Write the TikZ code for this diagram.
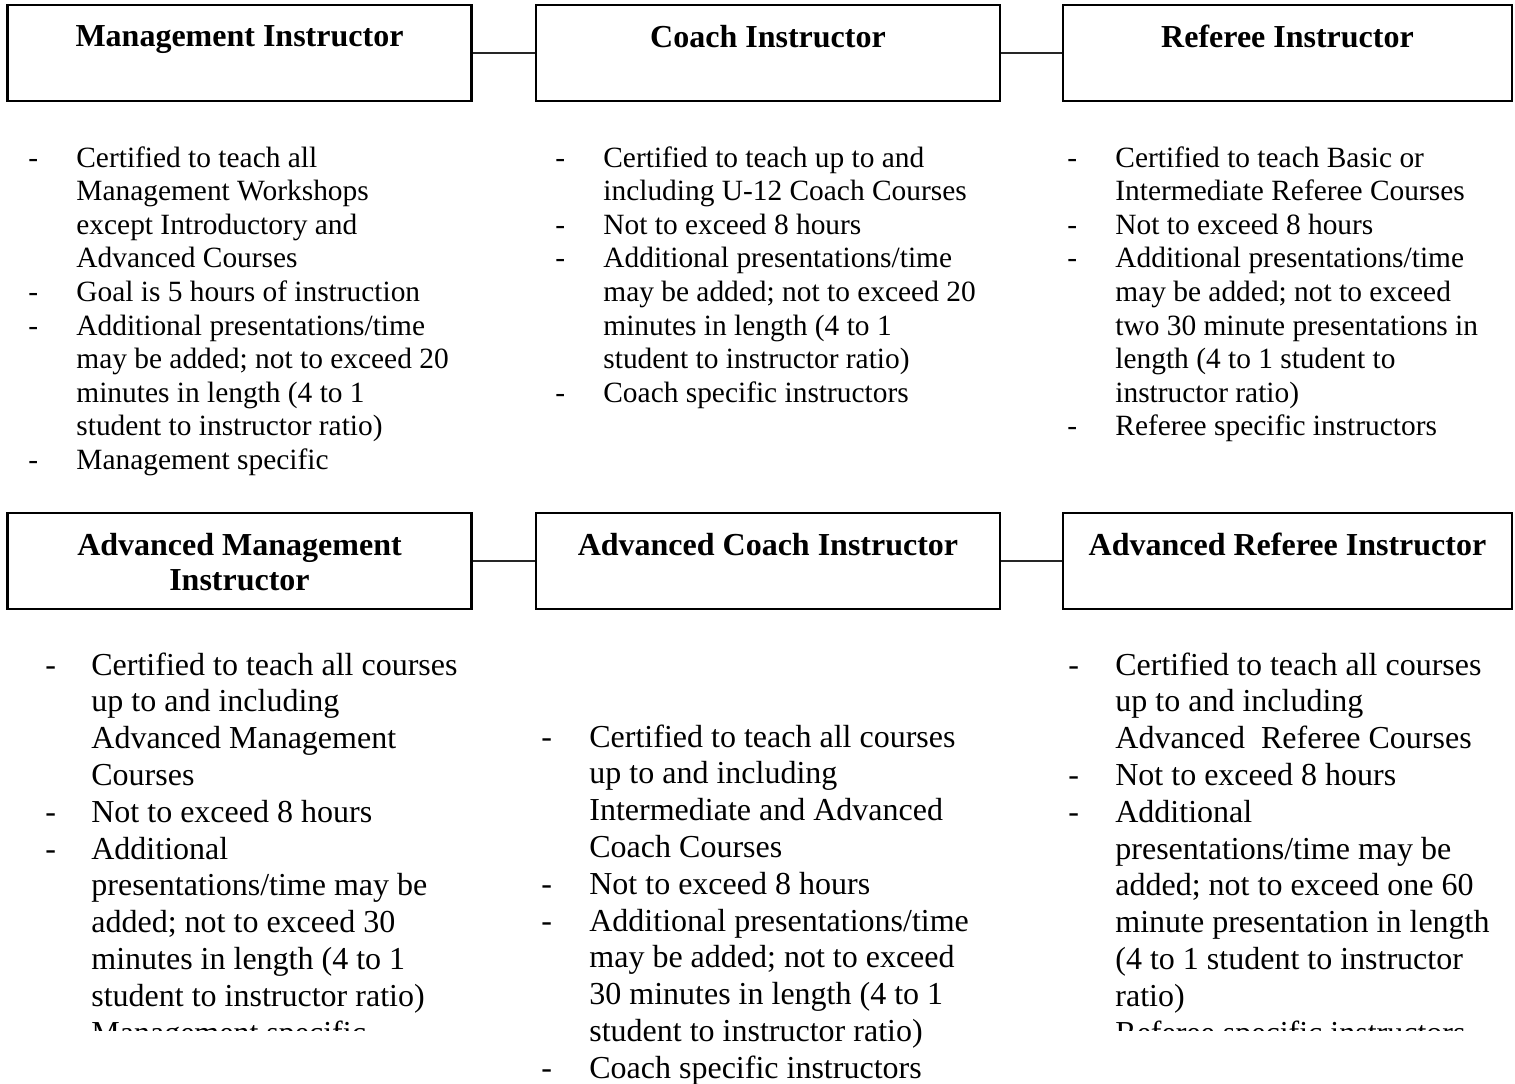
\documentclass[tikz,border=0pt]{standalone}
\usepackage{fontspec}
\setmainfont{Liberation Serif}
\usepackage{tikz}
\usetikzlibrary{positioning, calc}

\begin{document}
\begin{tikzpicture}[x=0.5pt, y=-0.5pt,
    box/.style={rectangle, draw=black, line width=1.1pt, minimum width=232pt, minimum height=48pt, inner sep=0pt},
    widebox/.style={box, minimum width=224.5pt},
    hdr/.style={anchor=north, align=center, inner sep=0pt, font=\fontsize{16}{17.6}\selectfont\bfseries},
    toplist/.style={anchor=base west, inner sep=0pt, font=\fontsize{14.7}{16.8}\selectfont},
    lowlist/.style={anchor=base west, inner sep=0pt, font=\fontsize{16}{18.4}\selectfont},
    link/.style={draw=black!85, line width=0.8pt},
  ]
  \useasboundingbox (0,0) rectangle (1515,1083);

  % Row 1: instructor boxes
  \node[box] (mgmt) at (239.5,53) {};
  \node[box] (coach) at (768,53) {};
  \node[widebox] (ref) at (1287.5,53) {};
  \node[hdr] (mgmtT) at ([yshift=-10.5pt]mgmt.north) {Management Instructor};
  \node[hdr] (coachT) at ([yshift=-10.5pt]coach.north) {Coach Instructor};
  \node[hdr] (refT) at ([yshift=-10.5pt]ref.north) {Referee Instructor};

  \draw[link] (mgmt.east) -- (coach.west);
  \draw[link] (coach.east) -- (ref.west);

  % Row 1: requirements
  \node[toplist] (mgmtL) at (28,167) {\begin{tabular}[t]{@{}p{24pt}@{}l@{}}
    - & Certified to teach all\\
      & Management Workshops\\
      & except Introductory and\\
      & Advanced Courses\\
    - & Goal is 5 hours of instruction\\
    - & Additional presentations/time\\
      & may be added; not to exceed 20\\
      & minutes in length (4 to 1\\
      & student to instructor ratio)\\
    - & Management specific
  \end{tabular}};
  \node[toplist] (coachL) at (555,167) {\begin{tabular}[t]{@{}p{24pt}@{}l@{}}
    - & Certified to teach up to and\\
      & including U-12 Coach Courses\\
    - & Not to exceed 8 hours\\
    - & Additional presentations/time\\
      & may be added; not to exceed 20\\
      & minutes in length (4 to 1\\
      & student to instructor ratio)\\
    - & Coach specific instructors
  \end{tabular}};
  \node[toplist] (refL) at (1067,167) {\begin{tabular}[t]{@{}p{24pt}@{}l@{}}
    - & Certified to teach Basic or\\
      & Intermediate Referee Courses\\
    - & Not to exceed 8 hours\\
    - & Additional presentations/time\\
      & may be added; not to exceed\\
      & two 30 minute presentations in\\
      & length (4 to 1 student to\\
      & instructor ratio)\\
    - & Referee specific instructors
  \end{tabular}};

  % Row 2: advanced instructor boxes
  \node[box] (advmgmt) at (239.5,561) {};
  \node[box] (advcoach) at (768,561) {};
  \node[widebox] (advref) at (1287.5,561) {};
  \node[hdr] (advmgmtT) at ([yshift=-10.5pt]advmgmt.north) {Advanced Management\\Instructor};
  \node[hdr] (advcoachT) at ([yshift=-10.5pt]advcoach.north) {Advanced Coach Instructor};
  \node[hdr] (advrefT) at ([yshift=-10.5pt]advref.north) {Advanced Referee Instructor};

  \draw[link] (advmgmt.east) -- (advcoach.west);
  \draw[link] (advcoach.east) -- (advref.west);

  % Row 2: requirements (outer columns are cut off)
  \begin{scope}
    \clip (0,620) rectangle (530,1030);
    \node[lowlist] (advmgmtL) at (45,675) {\begin{tabular}[t]{@{}p{23pt}@{}l@{}}
      - & Certified to teach all courses\\
        & up to and including\\
        & Advanced Management\\
        & Courses\\
      - & Not to exceed 8 hours\\
      - & Additional\\
        & presentations/time may be\\
        & added; not to exceed 30\\
        & minutes in length (4 to 1\\
        & student to instructor ratio)\\
        & Management specific
    \end{tabular}};
  \end{scope}
  \node[lowlist] (advcoachL) at (541,747) {\begin{tabular}[t]{@{}p{24pt}@{}l@{}}
    - & Certified to teach all courses\\
      & up to and including\\
      & Intermediate and Advanced\\
      & Coach Courses\\
    - & Not to exceed 8 hours\\
    - & Additional presentations/time\\
      & may be added; not to exceed\\
      & 30 minutes in length (4 to 1\\
      & student to instructor ratio)\\
    - & Coach specific instructors
  \end{tabular}};
  \begin{scope}
    \clip (1040,620) rectangle (1515,1030);
    \node[lowlist] (advrefL) at (1068,675) {\begin{tabular}[t]{@{}p{23.5pt}@{}l@{}}
      - & Certified to teach all courses\\
        & up to and including\\
        & Advanced\ \ Referee Courses\\
      - & Not to exceed 8 hours\\
      - & Additional\\
        & presentations/time may be\\
        & added; not to exceed one 60\\
        & minute presentation in length\\
        & (4 to 1 student to instructor\\
        & ratio)\\
        & Referee specific instructors
    \end{tabular}};
  \end{scope}
\end{tikzpicture}
\end{document}
